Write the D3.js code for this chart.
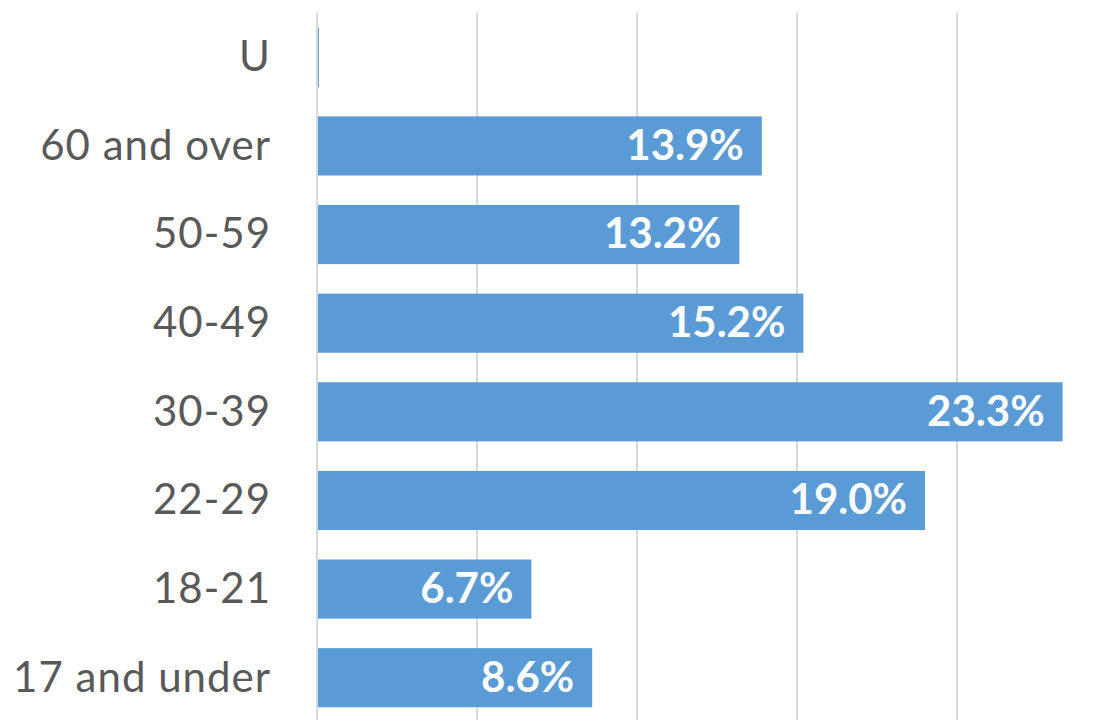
<!DOCTYPE html>
<html>
<head>
<meta charset="utf-8">
<script src="https://cdn.jsdelivr.net/npm/d3@7"></script>
<style>
  html, body { margin: 0; padding: 0; background: #fff; }
  svg { display: block; }
</style>
</head>
<body>
<svg id="chart" width="1112" height="720"></svg>
<script>
const categories = ["U", "60 and over", "50-59", "40-49", "30-39", "22-29", "18-21", "17 and under"];
const values = [0.06, 13.9, 13.2, 15.2, 23.3, 19.0, 6.7, 8.6];
const valueLabels = ["", "13.9%", "13.2%", "15.2%", "23.3%", "19.0%", "6.7%", "8.6%"];
const xTicks = [0, 5, 10, 15, 20, 25];

const svg = d3.select("#chart");
const plotLeft = 317, plotTop = 13, plotBottom = 722;
const x = d3.scaleLinear().domain([0, 25]).range([plotLeft, plotLeft + 25 * 32]);
const y = d3.scaleBand().domain(categories).range([plotTop, plotBottom]).paddingInner(0.333).paddingOuter(0.1665);

// gridlines
svg.append("g").selectAll("line").data(xTicks.slice(1)).join("line")
  .attr("x1", d => x(d)).attr("x2", d => x(d))
  .attr("y1", plotTop).attr("y2", 720)
  .attr("stroke", "#d9d9d9").attr("stroke-width", 2);

// bars
svg.append("g").selectAll("rect").data(categories).join("rect")
  .attr("x", x(0))
  .attr("y", d => y(d))
  .attr("width", (d, i) => x(values[i]) - x(0))
  .attr("height", y.bandwidth())
  .attr("fill", "#5b9bd5");

// axis line
svg.append("line").attr("x1", x(0)).attr("x2", x(0)).attr("y1", plotTop).attr("y2", 720)
  .attr("stroke", "#d9d9d9").attr("stroke-width", 2);

// category labels
svg.append("g").selectAll("text").data(categories).join("text")
  .attr("x", 271)
  .attr("y", d => y(d) + y.bandwidth() / 2)
  .attr("dy", "0.33em")
  .attr("text-anchor", "end")
  .attr("font-family", "Lato, 'Open Sans', sans-serif")
  .attr("font-size", 42)
  .attr("letter-spacing", 1)
  .attr("fill", "#595959")
  .text(d => d);

// value labels
svg.append("g").selectAll("text").data(categories).join("text")
  .attr("x", (d, i) => x(values[i]) - 18)
  .attr("y", d => y(d) + y.bandwidth() / 2)
  .attr("dy", "0.33em")
  .attr("text-anchor", "end")
  .attr("font-family", "Lato, 'Open Sans', sans-serif")
  .attr("font-weight", "bold")
  .attr("font-size", 42)
  .attr("fill", "#ffffff")
  .text((d, i) => valueLabels[i]);
</script>
</body>
</html>
